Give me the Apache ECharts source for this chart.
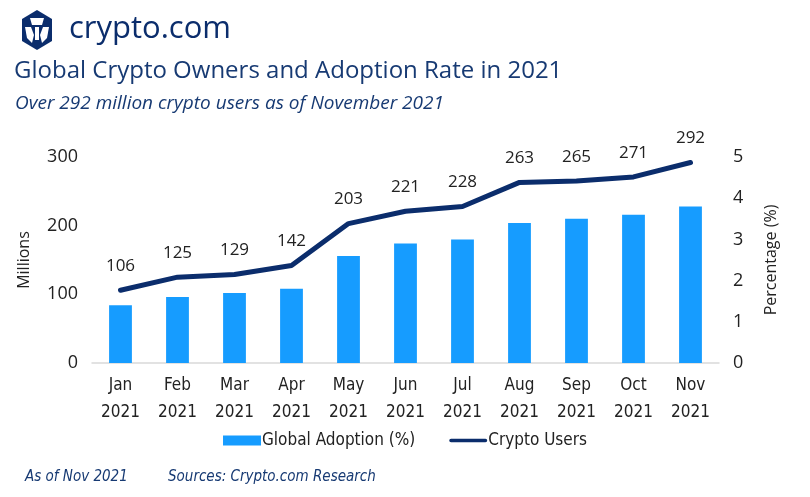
<!DOCTYPE html>
<html>
<head>
<meta charset="utf-8">
<script src="https://cdn.jsdelivr.net/npm/echarts@6/dist/echarts.min.js"></script>
<style>
  html, body { margin: 0; padding: 0; background: #fff; }
  #main { width: 810px; height: 497px; }
</style>
</head>
<body>
<div id="main"></div>
<script>
const months = ['Jan\n2021', 'Feb\n2021', 'Mar\n2021', 'Apr\n2021', 'May\n2021', 'Jun\n2021',
  'Jul\n2021', 'Aug\n2021', 'Sep\n2021', 'Oct\n2021', 'Nov\n2021'];
const adoption = [1.4, 1.6, 1.7, 1.8, 2.6, 2.9, 3.0, 3.4, 3.5, 3.6, 3.8];
const users = [106, 125, 129, 142, 203, 221, 228, 263, 265, 271, 292];

const navy = '#0b2d6c';
const blue = '#169cff';
const narrow = '"DejaVu Sans Condensed", "Liberation Sans Narrow", "Open Sans", sans-serif';

let chart = echarts.init(document.getElementById('main'));

chart.setOption({
  animation: false,
  backgroundColor: '#fff',
  grid: { left: 92, right: 91, top: 157, bottom: 134 },
  legend: {
    top: 427,
    left: 'center',
    itemGap: 34,
    itemWidth: 38,
    itemHeight: 10,
    textStyle: { fontFamily: narrow, fontSize: 17, color: '#222', padding: [0, 0, 0, -4] },
    data: [
      { name: 'Global Adoption (%)', icon: 'rect' },
      { name: 'Crypto Users', icon: 'path://M2,3 L40,3 A2,2 0 0 1 40,7 L2,7 A2,2 0 0 1 2,3 Z', itemStyle: { color: navy } }
    ]
  },
  xAxis: {
    type: 'category',
    data: months,
    axisLine: { lineStyle: { color: '#d9d9d9', width: 1.5 } },
    axisTick: { show: false },
    axisLabel: { fontFamily: narrow, fontSize: 17, color: '#222', lineHeight: 27, margin: 9 }
  },
  yAxis: [
    {
      type: 'value', min: 0, max: 300, interval: 100,
      name: 'Millions', nameLocation: 'middle', nameGap: 60,
      nameTextStyle: { fontFamily: '"Open Sans", sans-serif', fontSize: 16, color: '#222' },
      splitLine: { show: false },
      axisLabel: { fontFamily: '"Open Sans", sans-serif', fontSize: 18, color: '#222', margin: 14 }
    },
    {
      type: 'value', min: 0, max: 5, interval: 1,
      name: 'Percentage (%)', nameLocation: 'middle', nameGap: 44, nameRotate: 90,
      nameTextStyle: { fontFamily: '"Open Sans", sans-serif', fontSize: 16, color: '#222' },
      splitLine: { show: false },
      axisLabel: { fontFamily: '"Open Sans", sans-serif', fontSize: 18, color: '#222', margin: 14 }
    }
  ],
  series: [
    {
      name: 'Global Adoption (%)',
      type: 'bar',
      yAxisIndex: 1,
      data: adoption,
      barWidth: '40%',
      itemStyle: { color: blue }
    },
    {
      name: 'Crypto Users',
      type: 'line',
      yAxisIndex: 0,
      data: users,
      showSymbol: true,
      symbol: 'circle',
      symbolSize: 1,
      lineStyle: { color: navy, width: 5, cap: 'round', join: 'round' },
      itemStyle: { color: navy },
      label: {
        show: true,
        position: 'top',
        distance: 15,
        fontFamily: '"Open Sans", sans-serif',
        fontSize: 17,
        color: '#222'
      }
    }
  ],
  graphic: [
    // logo hexagon
    {
      type: 'polygon',
      shape: { points: [[37, 10], [52, 19], [52, 41], [37, 50], [22, 41], [22, 19]] },
      style: { fill: navy }
    },
    {
      type: 'polygon',
      shape: { points: [[30, 18], [44, 18], [42, 25], [32, 25]] },
      style: { fill: '#fff' }
    },
    {
      type: 'polygon',
      shape: { points: [[25, 27], [31, 27], [34, 35], [32, 43], [27, 38]] },
      style: { fill: '#fff' }
    },
    {
      type: 'polygon',
      shape: { points: [[49, 27], [43, 27], [40, 35], [42, 43], [47, 38]] },
      style: { fill: '#fff' }
    },
    {
      type: 'rect',
      shape: { x: 35, y: 27, width: 4, height: 13 },
      style: { fill: '#fff' }
    },
    {
      type: 'text', left: 69, top: 14,
      style: { text: 'crypto.com', fill: navy, font: '500 31px "Open Sans", sans-serif' }
    },
    {
      type: 'text', left: 14, top: 59,
      style: { text: 'Global Crypto Owners and Adoption Rate in 2021', fill: '#173a73', font: '24px "Open Sans", sans-serif' }
    },
    {
      type: 'text', left: 15, top: 94,
      style: { text: 'Over 292 million crypto users as of November 2021', fill: '#173a73', font: 'italic 19px "Open Sans", sans-serif' }
    },
    {
      type: 'text', left: 25, top: 470,
      style: { text: 'As of Nov 2021', fill: '#173a73', font: 'italic 15px ' + narrow }
    },
    {
      type: 'text', left: 168, top: 470,
      style: { text: 'Sources: Crypto.com Research', fill: '#173a73', font: 'italic 15px ' + narrow }
    }
  ]
});
</script>
</body>
</html>
